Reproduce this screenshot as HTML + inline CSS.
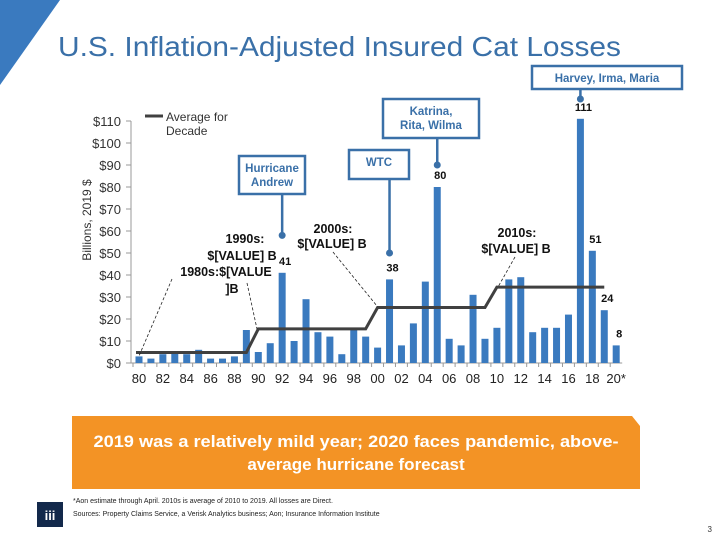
<!DOCTYPE html>
<html><head><meta charset="utf-8"><style>
body{margin:0;width:720px;height:540px;background:#fff;overflow:hidden;font-family:"Liberation Sans",sans-serif}
svg{display:block}
</style></head><body>
<svg id="chart" width="720" height="540" viewBox="0 0 720 540">
<polygon points="0,0 60,0 0,85" fill="#3a7abf"/>
<text x="58" y="56" font-size="28" fill="#3a70a8" textLength="563" lengthAdjust="spacingAndGlyphs">U.S. Inflation-Adjusted Insured Cat Losses</text>
<text transform="translate(91,220) rotate(-90)" text-anchor="middle" font-size="12" fill="#333">Billions, 2019 $</text>
<g id="yaxis"></g>
<g id="xaxis"></g>
<g id="bars"></g>
<g id="avg"></g>
<g id="notes"></g>
<line x1="145" y1="116" x2="163" y2="116" stroke="#404040" stroke-width="3"/>
<text x="166" y="121" font-size="12" fill="#333">Average for</text>
<text x="166" y="135" font-size="12" fill="#333">Decade</text>
<polygon points="72,416 632,416 640,426 640,489 72,489" fill="#f39325"/>
<text x="356" y="447" text-anchor="middle" font-size="17" font-weight="bold" fill="#fff" textLength="525" lengthAdjust="spacingAndGlyphs">2019 was a relatively mild year; 2020 faces pandemic, above-</text>
<text x="356" y="470" text-anchor="middle" font-size="17" font-weight="bold" fill="#fff">average hurricane forecast</text>
<rect x="37" y="502" width="26" height="25" fill="#13294b"/>
<text x="50" y="520" text-anchor="middle" font-size="13" font-weight="bold" fill="#fff">iii</text>
<text x="73" y="503" font-size="7" fill="#222">*Aon estimate through April. 2010s is average of 2010 to 2019. All losses are Direct.</text>
<text x="73" y="516" font-size="7" fill="#222">Sources: Property Claims Service, a Verisk Analytics business; Aon; Insurance Information Institute</text>
<text x="712" y="532" text-anchor="end" font-size="8" fill="#333">3</text>
</svg>
<script>
const years=[1980,1981,1982,1983,1984,1985,1986,1987,1988,1989,1990,1991,1992,1993,1994,1995,1996,1997,1998,1999,2000,2001,2002,2003,2004,2005,2006,2007,2008,2009,2010,2011,2012,2013,2014,2015,2016,2017,2018,2019,2020];
const losses=[3,2,4,5,4,6,2,2,3,15,5,9,41,10,29,14,12,4,15,12,7,38,8,18,37,80,11,8,31,11,16,38,39,14,16,16,22,111,51,24,8];
const decadeStarts=[1980,1990,2000,2010];
const decadeAvgs=[4.8,15.5,25.2,34.5];
const yTicks=[0,10,20,30,40,50,60,70,80,90,100,110];
const xTickLabels=["80","82","84","86","88","90","92","94","96","98","00","02","04","06","08","10","12","14","16","18","20*"];
const labeledYears=[1992,2001,2005,2017,2018,2019,2020];
const NS="http://www.w3.org/2000/svg";
const X=y=>139+(y-1980)*11.93;
const Y=v=>363-v*2.2;
function mk(tag,attrs,parent,txt){const e=document.createElementNS(NS,tag);for(const k in attrs)e.setAttribute(k,attrs[k]);if(txt!==undefined)e.textContent=txt;document.getElementById(parent).appendChild(e);return e;}
yTicks.forEach(v=>{
  const t=mk('text',{x:121,y:Y(v)+5,'text-anchor':'end','font-size':13,fill:'#333'},'yaxis','$'+v);
  
  
  const l=mk('line',{x1:126,x2:131,y1:Y(v),y2:Y(v),stroke:'#999'},'yaxis');
  
  
});
const ax=mk('line',{x1:131,x2:131,y1:Y(110),y2:Y(0),stroke:'#999'},'yaxis');


const bx=mk('line',{x1:131,x2:X(2020)+6,y1:Y(0),y2:Y(0),stroke:'#999'},'xaxis');


years.forEach(y=>{const t=mk('line',{x1:X(y)-6,x2:X(y)-6,y1:Y(0),y2:Y(0)+4,stroke:'#999'},'xaxis');
  
  });
xTickLabels.forEach((s,i)=>{
  const t=mk('text',{x:X(1980+2*i),y:Y(0)+20,'text-anchor':'middle','font-size':13,fill:'#222'},'xaxis',s);
  
  
});
years.forEach((y,i)=>{
  const r=mk('rect',{x:X(y)-3.5,y:Y(losses[i]),width:7,height:losses[i]*2.2,fill:'#3a7abf'},'bars');
  
  
  if(labeledYears.includes(y)){
    const t=mk('text',{x:X(y)+3,y:Y(losses[i])-8,'text-anchor':'middle','font-size':11,'font-weight':'bold',fill:'#111'},'bars',String(losses[i]));
    
    
  }
});
let pts=[];
decadeStarts.forEach((d,i)=>{pts.push(X(d)+(i?0:-3)+','+Y(decadeAvgs[i]));pts.push(X(d+9)+','+Y(decadeAvgs[i]));});
const pl=mk('polyline',{points:pts.join(' '),fill:'none',stroke:'#404040','stroke-width':3},'avg');


function callout(name,bx,by,bw,bh,lines,year,dotV){
  const g=mk('g',{},'notes');
  
  
  const cx=X(year);
  mk('line',{x1:cx,x2:cx,y1:by+bh,y2:Y(dotV),stroke:'#3a70a8','stroke-width':2.5},'notes');
  mk('circle',{cx:cx,cy:Y(dotV),r:3.5,fill:'#3a70a8'},'notes');
  mk('rect',{x:bx,y:by,width:bw,height:bh,fill:'#fff',stroke:'#3a70a8','stroke-width':2.5},'notes');
  lines.forEach((s,k)=>mk('text',{x:bx+bw/2,y:by+16+k*14,'text-anchor':'middle','font-size':11.5,'font-weight':'bold',fill:'#3a70a8'},'notes',s));
}
callout('callout-andrew',239,156,66,38,['Hurricane','Andrew'],1992,58);
callout('callout-wtc',349,150,60,29,['WTC'],2001,50);
callout('callout-katrina',383,99,96,39,['Katrina,','Rita, Wilma'],2005,90);
callout('callout-harvey',532,66,150,23,['Harvey, Irma, Maria'],2017,120);
function lbl(x,y,s){const t=mk('text',{x:x,y:y,'text-anchor':'middle','font-size':12.5,'font-weight':'bold',fill:'#111'},'notes',s);
  
  }
function dash(x1,y1,x2,y2){mk('line',{x1,y1,x2,y2,stroke:'#222','stroke-width':0.8,'stroke-dasharray':'3,2'},'notes');}
dash(172,279,139,356);dash(247,283,257,329);dash(333,252,377,306);dash(515,257,498,287);
lbl(245,243,'1990s:');lbl(242,260,'$[VALUE] B');
lbl(226,276,'1980s:$[VALUE');lbl(232,293,']B');
lbl(333,233,'2000s:');lbl(332,248,'$[VALUE] B');
lbl(517,237,'2010s:');lbl(516,253,'$[VALUE] B');
</script>
</body></html>
